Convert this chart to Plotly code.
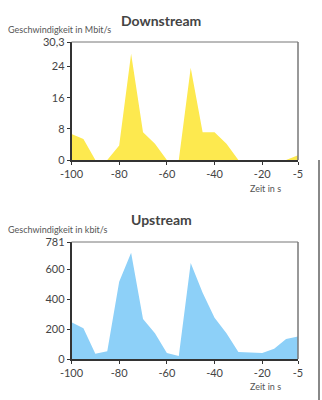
import plotly.graph_objects as go

time_s = [-100, -95, -90, -85, -80, -75, -70, -65, -60, -55, -50, -45, -40, -35, -30, -25, -20, -15, -10, -5]
down_mbit = [6.7, 5.4, 0, 0, 3.7, 27.3, 7.1, 4.2, 0, 0, 23.7, 7.1, 7.1, 4.2, 0, 0, 0, 0, 0, 1.2]
up_kbit = [245, 205, 35, 51, 515, 709, 267, 172, 40, 20, 641, 442, 276, 172, 46, 44, 40, 69, 133, 150]

x_ticks = [-100, -80, -60, -40, -20, -5]
down_ticks = [0, 8, 16, 24, 30.3]
down_ticklabels = ["0", "8", "16", "24", "30,3"]
up_ticks = [0, 200, 400, 600, 781]
up_ticklabels = ["0", "200", "400", "600", "781"]

FONT = "Lato"
yellow = "#FDE94F"
blue = "#8DD0F8"
axis_col = "#333333"
border_col = "#777777"

fig = go.Figure()
fig.add_trace(go.Scatter(x=time_s, y=down_mbit, mode="lines", fill="tozeroy",
                         fillcolor=yellow, line=dict(width=0, color=yellow),
                         xaxis="x", yaxis="y", hoverinfo="skip"))
fig.add_trace(go.Scatter(x=time_s, y=up_kbit, mode="lines", fill="tozeroy",
                         fillcolor=blue, line=dict(width=0, color=blue),
                         xaxis="x2", yaxis="y2", hoverinfo="skip"))

xd = [71.5 / 322, 298 / 322]

def xaxis_common(anchor):
    return dict(domain=xd, range=[-100, -5], tickvals=x_ticks, ticktext=[str(v) for v in x_ticks],
                showgrid=False, zeroline=False, showline=True, linecolor=axis_col, linewidth=1.5,
                ticks="outside", ticklen=3, tickcolor=axis_col, anchor=anchor, automargin=False,
                tickfont=dict(family=FONT, size=11, color="#444444"), fixedrange=True)

def yaxis_common(dom, rng, tv, tt, anchor):
    return dict(domain=dom, range=rng, tickvals=tv, ticktext=tt, showgrid=False, zeroline=False,
                showline=True, linecolor=axis_col, linewidth=1.5, ticks="outside", ticklen=3,
                tickcolor=axis_col, anchor=anchor, automargin=False,
                tickfont=dict(family=FONT, size=11, color="#444444"), fixedrange=True)

fig.update_layout(
    width=322, height=400,
    margin=dict(l=0, r=0, t=0, b=0, pad=0, autoexpand=False),
    paper_bgcolor="white", plot_bgcolor="white",
    showlegend=False,
    xaxis=xaxis_common("y"),
    yaxis=yaxis_common([1 - 160 / 400, 1 - 42 / 400], [0, 30.3], down_ticks, down_ticklabels, "x"),
    xaxis2=xaxis_common("y2"),
    yaxis2=yaxis_common([1 - 359 / 400, 1 - 242 / 400], [0, 781], up_ticks, up_ticklabels, "x2"),
)

# top and right borders of each plot box
for (y0, y1) in [(1 - 160 / 400, 1 - 42 / 400), (1 - 359 / 400, 1 - 242 / 400)]:
    fig.add_shape(type="line", xref="paper", yref="paper", x0=xd[0], x1=xd[1], y0=y1, y1=y1,
                  line=dict(color=border_col, width=1))
    fig.add_shape(type="line", xref="paper", yref="paper", x0=xd[1], x1=xd[1], y0=y0, y1=y1,
                  line=dict(color=border_col, width=1.5))

# page scrollbar
fig.add_shape(type="line", xref="paper", yref="paper", x0=319 / 322, x1=319 / 322,
              y0=0, y1=1 - 160 / 400, line=dict(color="#888888", width=2))

ann = []
for title, ty, ytitle, yt, xt in [("Downstream", 20, "Geschwindigkeit in Mbit/s", 29, 188),
                                   ("Upstream", 219, "Geschwindigkeit in kbit/s", 229, 386)]:
    ann.append(dict(text="<b>" + title + "</b>", x=161 / 322, y=1 - ty / 400, xref="paper", yref="paper",
                    showarrow=False, xanchor="center", yanchor="middle",
                    font=dict(family=FONT, size=14, color="#444444")))
    ann.append(dict(text=ytitle, x=6 / 322, y=1 - yt / 400, xref="paper", yref="paper",
                    showarrow=False, xanchor="left", yanchor="middle",
                    font=dict(family=FONT, size=9, color="#555555")))
    ann.append(dict(text="Zeit in s", x=283 / 322, y=1 - xt / 400, xref="paper", yref="paper",
                    showarrow=False, xanchor="right", yanchor="middle",
                    font=dict(family=FONT, size=9, color="#555555")))
fig.update_layout(annotations=ann)

fig.write_html("out.html")
